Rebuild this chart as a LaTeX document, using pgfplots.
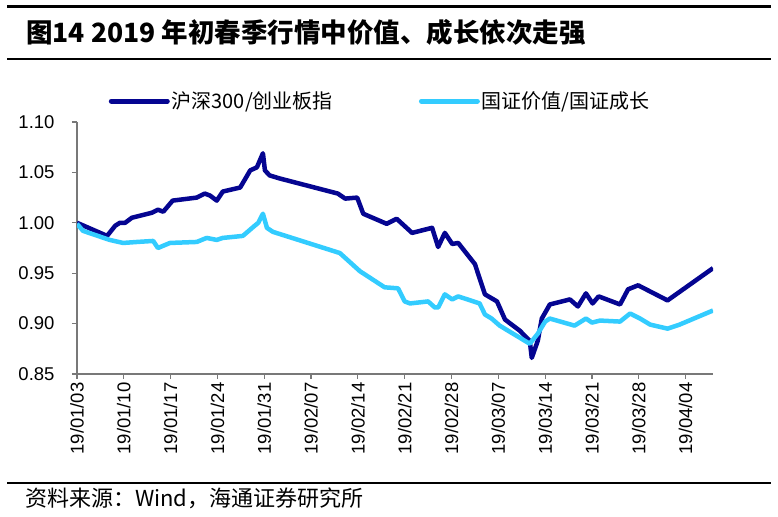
\documentclass[border=0pt]{standalone}
\usepackage{fontspec}
\setmainfont{Liberation Sans}
\newfontfamily\cjk{Noto Sans CJK SC}
\usepackage{pgfplots}
\pgfplotsset{compat=1.18}
\definecolor{hsblue}{RGB}{5,5,145}
\definecolor{gzblue}{RGB}{51,204,255}
\definecolor{axgray}{RGB}{120,120,120}

% day = calendar days since 2019-01-03
\pgfplotstableread{
day val
0    1.000
4.5  0.987
5.7  0.997
6.4  1.000
7.2  1.000
8.2  1.005
11.2 1.010
12.1 1.013
12.9 1.011
14.3 1.022
17.9 1.025
19.1 1.029
19.9 1.027
20.9 1.022
21.8 1.031
24.4 1.035
25.9 1.052
26.9 1.055
27.8 1.069
28.1 1.052
28.8 1.047
30.3 1.044
39.0 1.029
40.1 1.024
41.9 1.025
42.8 1.009
46.3 0.999
47.8 1.004
50.1 0.990
53.1 0.995
54.0 0.976
55.0 0.990
56.1 0.979
57.0 0.980
59.5 0.959
60.2 0.945
61.0 0.929
62.8 0.922
64.0 0.904
66.2 0.893
67.7 0.883
68.0 0.866
68.9 0.883
69.5 0.905
70.7 0.919
73.7 0.924
74.9 0.917
76.1 0.930
77.1 0.920
78.0 0.927
81.2 0.919
82.4 0.934
83.9 0.938
88.3 0.923
95.1 0.955
}\hsdata

\pgfplotstableread{
day val
0    0.999
0.9  0.992
4.9  0.983
6.9  0.980
9.0  0.981
11.4 0.982
12.1 0.975
13.9 0.980
17.9 0.981
19.4 0.985
20.9 0.983
21.8 0.985
24.8 0.987
26.2 0.995
27.1 1.000
27.8 1.009
28.4 0.995
29.3 0.991
39.3 0.970
42.3 0.952
46.0 0.936
48.0 0.935
49.0 0.922
49.8 0.920
52.5 0.922
53.5 0.916
54.0 0.916
55.0 0.929
56.1 0.924
57.0 0.927
60.2 0.920
61.0 0.909
62.0 0.905
63.2 0.898
67.7 0.880
68.9 0.890
70.0 0.902
70.7 0.905
74.4 0.898
76.1 0.905
77.0 0.901
78.2 0.903
81.2 0.902
82.7 0.910
84.2 0.905
85.7 0.899
88.3 0.895
90.1 0.899
95.1 0.913
}\gzdata

\begin{document}
\begin{tikzpicture}
\path[use as bounding box] (0,0) rectangle (778bp,517bp);
\draw[line width=3bp] (7bp,510bp) -- (771bp,510bp);
\draw[line width=2.5bp] (7bp,458bp) -- (771bp,458bp);
\draw[line width=2.5bp] (7bp,34bp) -- (771bp,34bp);
\node[anchor=base west, inner sep=0pt] at (26bp,474bp)
  {\cjk\bfseries\fontsize{26.5bp}{28bp}\selectfont 图14 2019 年初春季行情中价值、成长依次走强};
\node[anchor=base west, inner sep=0pt] at (25bp,11bp)
  {\cjk\fontsize{22bp}{24bp}\selectfont 资料来源：Wind，海通证券研究所};

\begin{axis}[
  at={(77bp,143bp)}, anchor=south west,
  scale only axis, width=636bp, height=252bp,
  xmin=0, xmax=95.1, ymin=0.85, ymax=1.10,
  axis x line=bottom, axis y line=left,
  axis line style={-, draw=axgray, line width=1.2bp},
  tick align=outside, major tick length=5bp,
  tick style={draw=axgray, line width=1.2bp},
  xtick={0,7,14,21,28,35,42,49,56,63,70,77,84,91},
  xticklabels={19/01/03,19/01/10,19/01/17,19/01/24,19/01/31,19/02/07,19/02/14,19/02/21,19/02/28,19/03/07,19/03/14,19/03/21,19/03/28,19/04/04},
  x tick label style={rotate=90, anchor=east, font=\fontsize{18.5bp}{18bp}\selectfont},
  ytick={0.85,0.9,0.95,1,1.05,1.1},
  y tick label style={font=\fontsize{18.5bp}{18bp}\selectfont, xshift=-14bp},
  yticklabel style={/pgf/number format/.cd, fixed, fixed zerofill, precision=2, assume math mode=true},
  legend columns=2,
  legend style={at={(0.045,1.083)}, anchor=west, draw=none, fill=none,
    font=\cjk\fontsize{20bp}{22bp}\selectfont,
    /tikz/every even column/.append style={column sep=84bp}},
  legend cell align=left,
  legend image code/.code={\draw[#1, line width=5bp, line cap=round] (0bp,0bp) -- (56bp,0bp);},
]
\addplot[hsblue, line width=4.5bp, line join=round] table[x=day, y=val] {\hsdata};
\addlegendentry{沪深300/创业板指}
\addplot[gzblue, line width=4.5bp, line join=round] table[x=day, y=val] {\gzdata};
\addlegendentry{国证价值/国证成长}
\end{axis}
\end{tikzpicture}
\end{document}
